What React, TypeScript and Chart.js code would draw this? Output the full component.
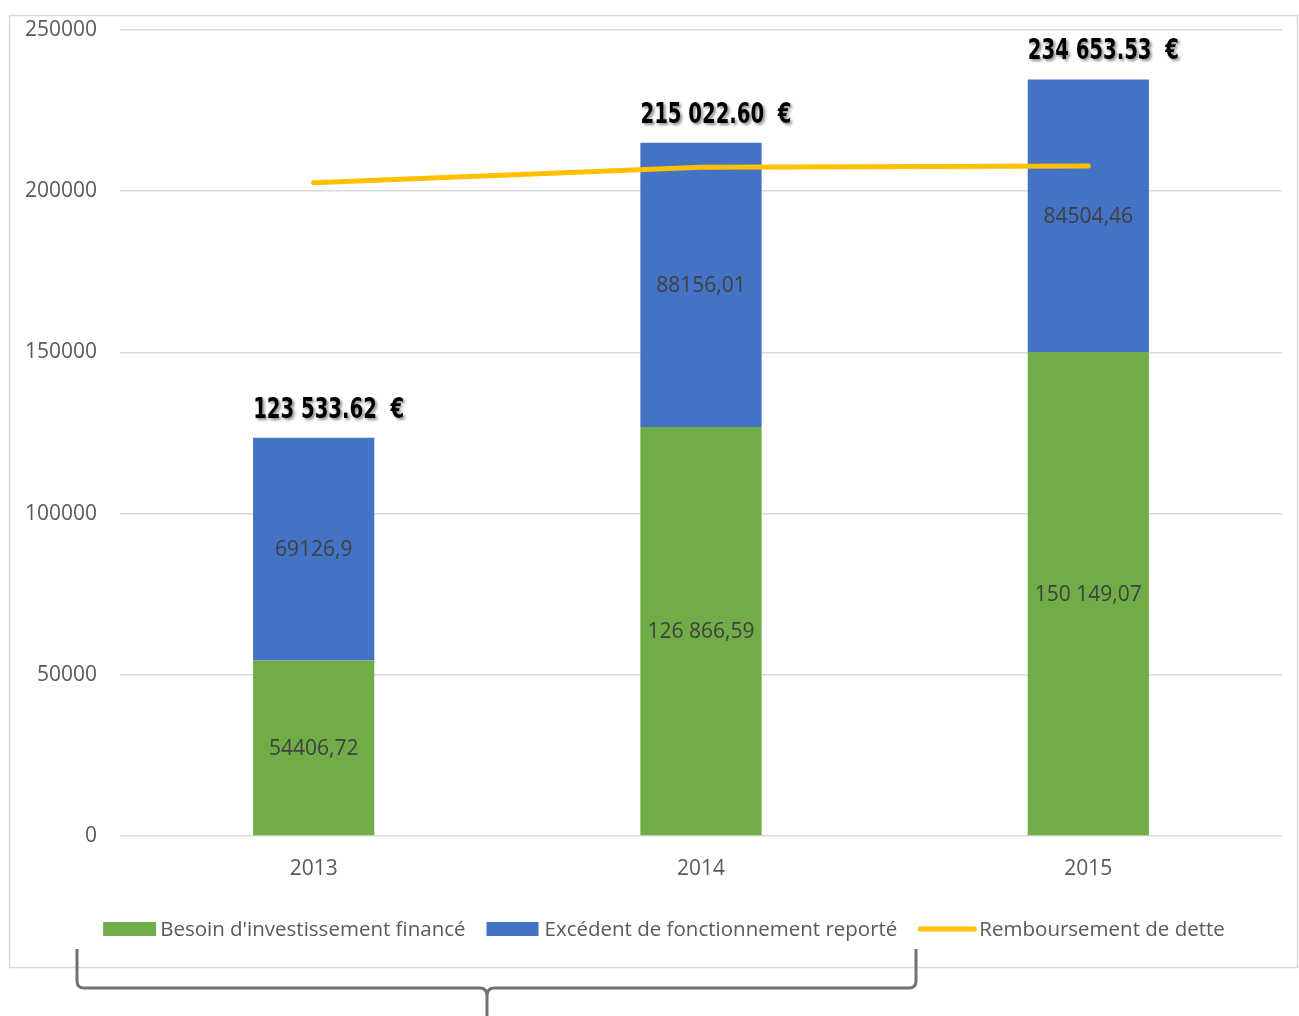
import React, { useEffect, useRef } from "react";
import { Chart, registerables } from "chart.js";

Chart.register(...registerables);

const categories = ["2013", "2014", "2015"];
const investmentValues = [54406.72, 126866.59, 150149.07];
const surplusValues = [69126.9, 88156.01, 84504.46];
const debtValues = [202600, 207400, 207800];
const investmentLabels = ["54406,72", "126 866,59", "150 149,07"];
const surplusLabels = ["69126,9", "88156,01", "84504,46"];
const totalLabels = ["123 533.62  €", "215 022.60  €", "234 653.53  €"];
const seriesNames = [
  "Besoin d'investissement financé",
  "Excédent de fonctionnement reporté",
  "Remboursement de dette",
];

const GREEN = "#70AD47";
const BLUE = "#4472C4";
const YELLOW = "#FFC000";
const FONT = '"Open Sans", "Noto Sans", sans-serif';
const TOTAL_FONT = 'bold 28px "DejaVu Sans Condensed", "DejaVu Sans", sans-serif';

const decorPlugin = {
  id: "decor",
  beforeDraw(chart: any) {
    const ctx = chart.ctx;
    ctx.save();
    ctx.fillStyle = "#ffffff";
    ctx.fillRect(0, 0, chart.width, chart.height);
    ctx.strokeStyle = "#d9d9d9";
    ctx.lineWidth = 1.5;
    ctx.strokeRect(9.5, 15.5, 1288, 952);
    ctx.restore();
  },
  afterDatasetsDraw(chart: any) {
    const ctx = chart.ctx;
    ctx.save();
    // segment labels
    ctx.font = `21px ${FONT}`;
    ctx.fillStyle = "#404040";
    ctx.textAlign = "center";
    ctx.textBaseline = "middle";
    const labelSets = [investmentLabels, surplusLabels];
    [1, 2].forEach((di, k) => {
      const meta = chart.getDatasetMeta(di);
      meta.data.forEach((el: any, i: number) => {
        const y = (el.y + el.base) / 2;
        ctx.fillText(labelSets[k][i], el.x, y + 1);
      });
    });
    // totals
    const topMeta = chart.getDatasetMeta(2);
    ctx.font = TOTAL_FONT;
    ctx.fillStyle = "#000000";
    ctx.textAlign = "center";
    ctx.textBaseline = "alphabetic";
    ctx.shadowColor = "rgba(0,0,0,0.45)";
    ctx.shadowOffsetX = 2;
    ctx.shadowOffsetY = 2;
    ctx.shadowBlur = 3;
    const sx = 0.78;
    topMeta.data.forEach((el: any, i: number) => {
      ctx.save();
      ctx.translate(el.x + 15, el.y - 20);
      ctx.scale(sx, 1);
      ctx.fillText(totalLabels[i], 0, 0);
      ctx.restore();
    });
    ctx.restore();
  },
  afterDraw(chart: any) {
    const ctx = chart.ctx;
    ctx.save();
    // legend
    ctx.font = `20.5px ${FONT}`;
    ctx.textBaseline = "middle";
    ctx.textAlign = "left";
    const ly = 929;
    const markerW = [53, 52, 58];
    const markerGap = [4, 6, 3];
    const itemGap = 21;
    const widths = seriesNames.map((s, i) => markerW[i] + markerGap[i] + ctx.measureText(s).width);
    const total = widths.reduce((a, b) => a + b, 0) + itemGap * 2;
    let x = 664 - total / 2;
    const colors = [GREEN, BLUE, YELLOW];
    seriesNames.forEach((name, i) => {
      if (i < 2) {
        ctx.fillStyle = colors[i];
        ctx.fillRect(x, ly - 7, markerW[i], 14);
      } else {
        ctx.strokeStyle = YELLOW;
        ctx.lineWidth = 5;
        ctx.lineCap = "round";
        ctx.beginPath();
        ctx.moveTo(x + 2, ly);
        ctx.lineTo(x + markerW[i] - 2, ly);
        ctx.stroke();
      }
      ctx.fillStyle = "#595959";
      ctx.fillText(name, x + markerW[i] + markerGap[i], ly + 1);
      x += widths[i] + itemGap;
    });
    // brace
    ctx.strokeStyle = "#767171";
    ctx.lineWidth = 3;
    ctx.lineCap = "butt";
    ctx.lineJoin = "round";
    ctx.beginPath();
    ctx.moveTo(77, 949);
    ctx.lineTo(77, 981);
    ctx.quadraticCurveTo(77, 988, 84, 988);
    ctx.lineTo(480, 988);
    ctx.quadraticCurveTo(487, 988, 487, 996);
    ctx.lineTo(487, 1018);
    ctx.moveTo(916, 949);
    ctx.lineTo(916, 981);
    ctx.quadraticCurveTo(916, 988, 909, 988);
    ctx.lineTo(494, 988);
    ctx.quadraticCurveTo(487, 988, 487, 996);
    ctx.stroke();
    ctx.restore();
  },
};

export default function App() {
  const canvasRef = useRef<HTMLCanvasElement | null>(null);

  useEffect(() => {
    document.body.style.margin = "0";
    const canvas = canvasRef.current;
    if (!canvas) return;
    const chart = new Chart(canvas, {
      type: "bar",
      data: {
        labels: categories,
        datasets: [
          {
            type: "line",
            label: seriesNames[2],
            data: debtValues,
            borderColor: YELLOW,
            backgroundColor: YELLOW,
            borderWidth: 5,
            pointRadius: 0,
            tension: 0,
            borderCapStyle: "round",
            order: 0,
          } as any,
          {
            type: "bar",
            label: seriesNames[0],
            data: investmentValues,
            backgroundColor: GREEN,
            borderWidth: 0,
            order: 1,
          },
          {
            type: "bar",
            label: seriesNames[1],
            data: surplusValues,
            backgroundColor: BLUE,
            borderWidth: 0,
            order: 1,
          },
        ],
      },
      options: {
        animation: false,
        responsive: true,
        maintainAspectRatio: false,
        layout: { padding: { left: 10, right: 17, top: 30, bottom: 120 } },
        datasets: { bar: { barPercentage: 0.313, categoryPercentage: 1 } },
        plugins: {
          legend: { display: false },
          tooltip: { enabled: false },
        },
        scales: {
          x: {
            stacked: true,
            grid: { display: false },
            border: { display: false },
            ticks: { color: "#595959", font: { family: FONT, size: 21 }, padding: 12 },
            afterFit: (scale: any) => {
              scale.height = 60;
              scale.paddingLeft = 0;
              scale.paddingRight = 0;
            },
          },
          y: {
            stacked: true,
            min: 0,
            max: 250000,
            grid: { color: "#d9d9d9", lineWidth: 1.5, drawTicks: false },
            border: { display: false },
            ticks: {
              stepSize: 50000,
              color: "#595959",
              font: { family: FONT, size: 21 },
              padding: 23,
              callback: (v: any) => String(v),
            },
            afterFit: (scale: any) => {
              scale.width = 110;
              scale.paddingTop = 0;
              scale.paddingBottom = 0;
            },
          },
        },
      } as any,
      plugins: [decorPlugin],
    });
    return () => chart.destroy();
  }, []);

  return (
    <div style={{ position: "absolute", left: 0, top: 0, width: 1299, height: 1016 }}>
      <canvas ref={canvasRef} />
    </div>
  );
}
